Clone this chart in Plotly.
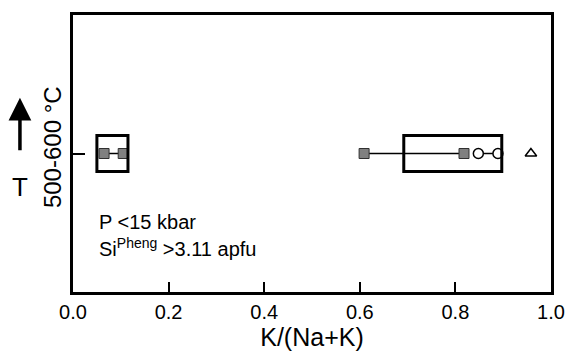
import plotly.graph_objects as go

# data
sq_left = [0.065, 0.105]
sq_right = [0.609, 0.818]
circles = [0.848, 0.889]
triangle = [0.958]
box_lo = [0.05, 0.692]
box_hi = [0.115, 0.897]
y_level = 0.5
box_half = 0.065
x_ticks = [0.0, 0.2, 0.4, 0.6, 0.8, 1.0]

FONT = "Liberation Sans, Arial, sans-serif"
fig = go.Figure()

for lo, hi in zip(box_lo, box_hi):
    fig.add_shape(type="rect", x0=lo, x1=hi, y0=y_level - box_half, y1=y_level + box_half,
                  xref="x", yref="y", line=dict(color="black", width=3), fillcolor="rgba(0,0,0,0)")

def sq(xs):
    fig.add_trace(go.Scatter(x=xs, y=[y_level] * len(xs), mode="lines+markers",
                             line=dict(color="black", width=1.5),
                             marker=dict(symbol="square", size=10, color="#808080",
                                         line=dict(color="#303030", width=1)),
                             showlegend=False))

sq(sq_left)
sq(sq_right)
fig.add_trace(go.Scatter(x=circles, y=[y_level] * len(circles), mode="lines+markers",
                         line=dict(color="black", width=1.5),
                         marker=dict(symbol="circle", size=10, color="white",
                                     line=dict(color="black", width=1.5)),
                         showlegend=False))
fig.add_trace(go.Scatter(x=triangle, y=[y_level], mode="markers",
                         marker=dict(symbol="triangle-up-open", size=10, color="black",
                                     line=dict(width=1.5)),
                         showlegend=False))

fig.add_annotation(x=0.05, y=0.253, xref="x", yref="y", xanchor="left", yanchor="middle",
                   text="P <15 kbar", showarrow=False, font=dict(size=20, color="black", family=FONT))
fig.add_annotation(x=0.05, y=0.162, xref="x", yref="y", xanchor="left", yanchor="middle",
                   text="Si<sup>Pheng</sup> >3.11 apfu", showarrow=False,
                   font=dict(size=20, color="black", family=FONT))

# T arrow with label
fig.add_annotation(x=-0.111, y=0.701, xref="paper", yref="paper", ax=0, ay=89,
                   showarrow=True, arrowhead=2, arrowsize=1.3, arrowwidth=3.5,
                   arrowcolor="black", text="T", startstandoff=20,
                   font=dict(size=26, color="black", family=FONT))
# y title
fig.add_annotation(x=-0.044, y=0.523, xref="paper", yref="paper", text="500-600 °C",
                   xanchor="center", yanchor="middle",
                   textangle=-90, showarrow=False, font=dict(size=24, color="black", family=FONT))

fig.update_layout(
    width=570, height=354,
    margin=dict(l=73, r=19, t=15, b=62),
    plot_bgcolor="white", paper_bgcolor="white",
    font=dict(family=FONT, color="black"),
    xaxis=dict(range=[0, 1], tickvals=x_ticks, ticktext=[f"{v:.1f}" for v in x_ticks],
               ticks="inside", ticklen=10, tickwidth=2, tickcolor="black",
               showline=True, linewidth=3, linecolor="black", mirror=True, automargin=False,
               showgrid=False, zeroline=False, tickfont=dict(size=20),
               title=dict(text="K/(Na+K)", font=dict(size=25), standoff=2)),
    yaxis=dict(range=[0, 1], tickvals=[y_level], showticklabels=False,
               ticks="inside", ticklen=12, tickwidth=2, tickcolor="black",
               showline=True, linewidth=3, linecolor="black", mirror=True, automargin=False,
               showgrid=False, zeroline=False),
)
fig.write_html("out.html", config={"displayModeBar": False},
               post_script="document.body.style.margin='0px';")
